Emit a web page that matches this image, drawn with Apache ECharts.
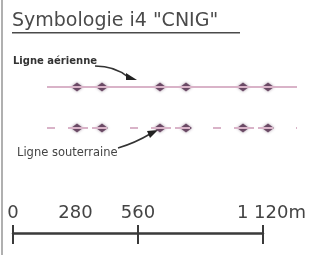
<!DOCTYPE html>
<html><head><meta charset="utf-8">
<script src="https://cdn.jsdelivr.net/npm/echarts@6/dist/echarts.min.js"></script>
<style>html,body{margin:0;padding:0;background:#fff}#c{width:309px;height:255px}</style>
</head><body><div id="c"></div>
<script>
// Scale bar (metres)
const scaleMin = 0;
const scaleMax = 1120;
const scaleLabelValues = [0, 280, 560, 1120];
const scaleLabelTexts = ['0', '280', '560', '1 120'];
const scaleTickValues = [0, 560, 1120];
const scaleUnit = 'm';
// Symbology lines: positions of the arrow symbols along each line (schematic units)
const lineNames = ['Ligne aérienne', 'Ligne souterraine'];
const lineExtent = [0, 250];
const aerialMarkers = [30, 55, 113, 139, 196, 221];
const undergroundMarkers = [30, 55, 113, 139, 196, 221];
const titleText = 'Symbologie i4 "CNIG"';

const chart = echarts.init(document.getElementById('c'));
const lineColor = '#d9b3c8';
const markColor = '#55304f';
const labelMap = {};
scaleLabelValues.forEach((v, i) => labelMap[v] = scaleLabelTexts[i]);

chart.setOption({
  backgroundColor: '#fff',
  animation: false,
  grid: [
    {left: 13, right: 42, top: 233, height: 10},
    {left: 47, right: 12, top: 87, height: 41}
  ],
  xAxis: [
    {gridIndex: 0, type: 'value', position: 'top', min: scaleMin, max: scaleMax,
     splitLine: {show: false},
     axisLine: {onZero: false, lineStyle: {color: '#3a3a3a', width: 2.5}},
     axisTick: {show: true, customValues: scaleTickValues, length: 8, lineStyle: {color: '#3a3a3a', width: 2}},
     axisLabel: {customValues: scaleLabelValues, margin: 11, color: '#444',
       fontFamily: 'DejaVu Sans', fontSize: 18,
       formatter: v => v === scaleMax ? '{u|' + labelMap[v] + scaleUnit + '}' : labelMap[v],
       rich: {u: {fontFamily: 'DejaVu Sans', fontSize: 18, color: '#444', padding: [0, 0, 0, 17]}}}},
    {gridIndex: 0, type: 'value', position: 'bottom', offset: -10, min: scaleMin, max: scaleMax,
     splitLine: {show: false}, axisLine: {show: false, onZero: false}, axisLabel: {show: false},
     axisTick: {show: true, customValues: scaleTickValues, length: 11, lineStyle: {color: '#3a3a3a', width: 2}}},
    {gridIndex: 1, type: 'value', min: lineExtent[0], max: lineExtent[1], show: false}
  ],
  yAxis: [
    {gridIndex: 0, type: 'value', show: false, min: 0, max: 1},
    {gridIndex: 1, type: 'value', show: false, min: 0, max: 1}
  ],
  series: [
    {name: lineNames[0], type: 'line', xAxisIndex: 2, yAxisIndex: 1, symbol: 'none',
     data: lineExtent.map(x => [x, 1]), lineStyle: {color: lineColor, width: 2}},
    {name: lineNames[1], type: 'line', xAxisIndex: 2, yAxisIndex: 1, symbol: 'none',
     data: lineExtent.map(x => [x, 0]), lineStyle: {color: lineColor, width: 2, type: [8, 13, 20, 4, 15, 23]}},
    {type: 'scatter', xAxisIndex: 2, yAxisIndex: 1, symbol: 'diamond', symbolSize: [12, 9],
     data: aerialMarkers.map(x => [x, 1]),
     itemStyle: {color: markColor, shadowBlur: 3, shadowColor: 'rgba(85,48,79,0.6)'}},
    {type: 'scatter', xAxisIndex: 2, yAxisIndex: 1, symbol: 'diamond', symbolSize: [12, 9],
     data: undergroundMarkers.map(x => [x, 0]),
     itemStyle: {color: markColor, shadowBlur: 3, shadowColor: 'rgba(85,48,79,0.6)'}}
  ],
  graphic: [
    {type: 'rect', left: 1, top: 0, shape: {width: 2, height: 255}, style: {fill: '#b0b0b0'}},
    {type: 'text', left: 12, top: 12, style: {text: titleText, fontFamily: 'DejaVu Sans', fontSize: 19, letterSpacing: 1.2, fill: '#4a4a4a'}},
    {type: 'rect', left: 12, top: 32, shape: {width: 228, height: 1.5}, style: {fill: '#4a4a4a'}},
    {type: 'text', left: 13, top: 56, style: {text: lineNames[0], fontFamily: 'DejaVu Sans', fontWeight: 'bold', fontSize: 10, fill: '#333'}},
    {type: 'bezierCurve', shape: {x1: 95, y1: 66, x2: 128, y2: 77, cpx1: 115, cpy1: 66}, style: {stroke: '#333', lineWidth: 1.5, fill: null}},
    {type: 'polygon', shape: {points: [[137, 80], [126, 73], [126, 80]]}, style: {fill: '#222'}},
    {type: 'text', left: 17, top: 147, style: {text: lineNames[1], fontFamily: 'DejaVu Sans', fontSize: 11.5, fill: '#444'}},
    {type: 'bezierCurve', shape: {x1: 118, y1: 148, x2: 150, y2: 134, cpx1: 135, cpy1: 143}, style: {stroke: '#333', lineWidth: 1.5, fill: null}},
    {type: 'polygon', shape: {points: [[158, 130], [147, 131], [150, 138]]}, style: {fill: '#222'}}
  ]
});
</script></body></html>
